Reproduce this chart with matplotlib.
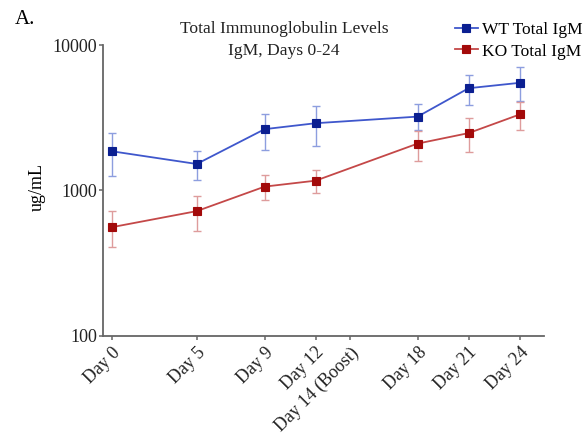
import numpy as np
import matplotlib.pyplot as plt
import matplotlib.ticker as mticker

plt.rcParams['font.family'] = ['Liberation Serif', 'DejaVu Serif']

# Data
days = [0, 5, 9, 12, 18, 21, 24]
wt_mean = [1860, 1520, 2640, 2900, 3220, 5050, 5500]
wt_upper = [2480, 1870, 3360, 3780, 3920, 6210, 7020]
wt_lower = [1250, 1170, 1910, 2030, 2590, 3900, 4100]
ko_mean = [558, 720, 1062, 1167, 2100, 2480, 3330]
ko_upper = [716, 914, 1268, 1390, 2570, 3160, 4070]
ko_lower = [406, 523, 853, 957, 1585, 1836, 2594]

tick_days = [0, 5, 9, 12, 14, 18, 21, 24]
tick_labels = ['Day 0', 'Day 5', 'Day 9', 'Day 12', 'Day 14 (Boost)',
               'Day 18', 'Day 21', 'Day 24']

fig = plt.figure(figsize=(5.86, 4.37), dpi=100)
ax = fig.add_axes([0.1753, 0.2318, 0.7535, 0.665])

def draw(mean, lo, hi, mcol, lcol, ecol, label):
    mean = np.array(mean)
    yerr = [mean - np.array(lo), np.array(hi) - mean]
    ax.errorbar(days, mean, yerr=yerr, fmt='none', ecolor=ecol,
                elinewidth=1.0, capsize=3, capthick=1.0, zorder=2)
    ax.plot(days, mean, color=lcol, lw=1.3, marker='s', ms=5.4, mew=0.8,
            mfc=mcol, mec=mcol, label=label, zorder=3)

draw(wt_mean, wt_lower, wt_upper, '#0b1f91', '#3f57cc', '#8d9edf', 'WT Total IgM')
draw(ko_mean, ko_lower, ko_upper, '#a30a0a', '#c44848', '#de9c9c', 'KO Total IgM')

ax.set_yscale('log')
ax.set_ylim(100, 10000)
ax.set_xlim(-0.53, 25.45)
ax.yaxis.set_major_locator(mticker.FixedLocator([100, 1000, 10000]))
ax.yaxis.set_major_formatter(mticker.FixedFormatter(['100', '1000', '10000']))
ax.yaxis.set_minor_locator(mticker.NullLocator())
ax.set_xticks(tick_days)
ax.set_xticklabels(tick_labels, rotation=45, ha='right', rotation_mode='anchor')

for s in ['top', 'right']:
    ax.spines[s].set_visible(False)
for s in ['left', 'bottom']:
    ax.spines[s].set_color('#666666')
    ax.spines[s].set_linewidth(1.3)
ax.tick_params(colors='#666666', width=1.1, length=3, labelsize=13,
               labelcolor='#222222')
ax.tick_params(axis='y', pad=1)
ax.tick_params(axis='x', pad=3)

fig.text(37 / 586, 1 - 187 / 437, 'ug/mL', rotation=90, ha='center',
         va='center', fontsize=13)
fig.text(0.485, 1 - 29 / 437, 'Total Immunoglobulin Levels', ha='center',
         va='center', fontsize=12.6, color='#222222')
fig.text(0.485, 1 - 51 / 437, 'IgM, Days 0-24', ha='center', va='center',
         fontsize=12.6, color='#222222')
fig.text(15 / 586, 1 - 20 / 437, 'A.', ha='left', va='center', fontsize=15)

ax.legend(loc='upper left', bbox_to_anchor=(455 / 586, 1 - 22 / 437),
          bbox_transform=fig.transFigure, frameon=False, fontsize=12.5,
          handlelength=1.3, handletextpad=0.25, labelspacing=0.3,
          borderpad=0, borderaxespad=0)

fig.savefig('out.png', dpi=100)
